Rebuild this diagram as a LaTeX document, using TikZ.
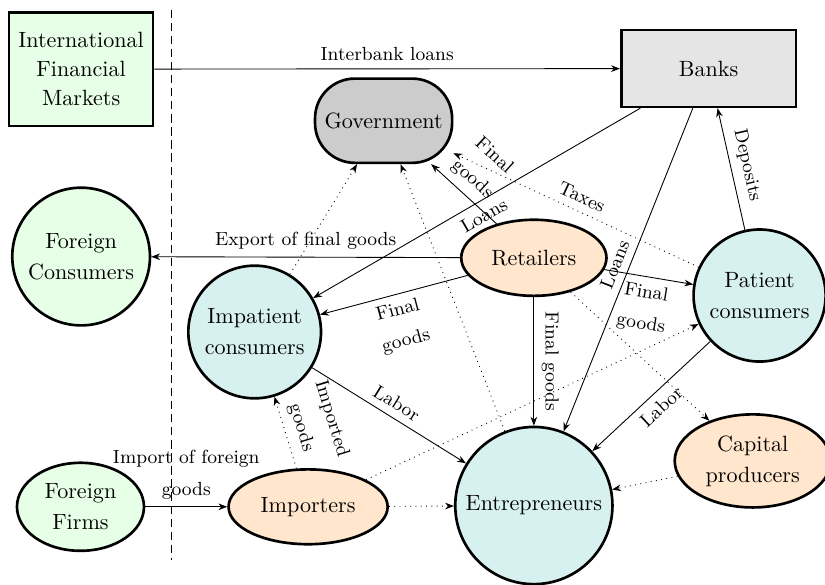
\documentclass[tikz,border=0pt]{standalone}
\usepackage{tikz}
\usetikzlibrary{arrows.meta,shapes.geometric,positioning}

\definecolor{abroad}{HTML}{E6FFE6}
\definecolor{firm}{HTML}{FFE6CC}
\definecolor{household}{HTML}{D7F1F1}
\newcommand{\agentfont}{\fontsize{10}{14}\selectfont}
\newcommand{\flowfont}{\fontsize{8.6}{10.3}\selectfont}

\tikzset{
  agent/.style     = {draw, very thick, align=center, inner sep=1pt, font=\agentfont},
  agentbox/.style  = {agent, rectangle},
  agentcirc/.style = {agent, circle},
  agentell/.style  = {agent, ellipse},
  flow/.style      = {-{Stealth[length=4pt,width=3pt]}, line width=0.4pt},
  dotflow/.style   = {flow, dotted},
  lbl/.style       = {font=\flowfont, align=center, sloped},
  border line/.style = {semithick, dash pattern=on 3.7pt off 2.2pt},
}

\begin{document}
\begin{tikzpicture}
  \useasboundingbox (0,0) rectangle (13.12,9.30);

  % rest of the world
  \node[agentbox, fill=abroad, minimum width=2.29cm, minimum height=1.81cm,
        font=\fontsize{10}{13}\selectfont]
       (ifm) at (1.29,8.20) {International\\Financial\\Markets};
  \node[agentcirc, fill=abroad, minimum size=2.19cm]
       (fcons) at (1.29,5.22) {Foreign\\Consumers};
  \node[agentell, fill=abroad, minimum width=2.02cm, minimum height=1.40cm]
       (ff) at (1.28,1.24) {Foreign\\Firms};

  \coordinate (sep top) at (2.73,9.14);
  \coordinate (sep bot) at (2.73,0.40);
  \draw[border line] (sep top) -- (sep bot);

  % domestic economy
  \node[agentbox, fill=gray!20, minimum width=2.78cm, minimum height=1.22cm]
       (banks) at (11.27,8.21) {Banks};
  \node[agentbox, fill=gray!40, rounded corners=18pt, minimum width=2.18cm, minimum height=1.34cm]
       (gov) at (6.10,7.38) {Government};
  \node[agentell, fill=firm, minimum width=2.31cm, minimum height=1.21cm]
       (ret) at (8.49,5.20) {Retailers};
  \node[agentcirc, fill=household, minimum size=2.10cm]
       (pat) at (12.08,4.60) {Patient\\consumers};
  \node[agentcirc, fill=household, minimum size=2.11cm]
       (imp) at (4.05,4.02) {Impatient\\consumers};
  \node[agentcirc, fill=household, minimum size=2.50cm]
       (ent) at (8.49,1.26) {Entrepreneurs};
  \node[agentell, fill=firm, minimum width=2.48cm, minimum height=1.48cm]
       (cap) at (11.97,1.97) {Capital\\producers};
  \node[agentell, fill=firm, minimum width=2.53cm, minimum height=1.19cm]
       (impo) at (4.90,1.24) {Importers};

  % flows
  \draw[flow] (ifm) -- node[lbl,above] {Interbank loans} (banks);
  \draw[flow] (ret) -- node[lbl,above] {Export of final goods} (fcons);
  \draw[flow] (banks) -- node[lbl,below] {Loans} (imp);
  \draw[flow] (banks) -- node[lbl,above] {Loans} (ent);
  \draw[flow] (pat) -- node[lbl,above] {Deposits} (banks);
  \draw[flow] (ret) -- node[lbl,above,pos=0.54] {Final\\[4pt]goods} (gov);
  \draw[dotflow] (pat) -- node[lbl,above] {Taxes} (gov);
  \draw[flow] (ret) -- node[lbl,below] {Final\\[4pt]goods} (imp);
  \draw[flow] (ret) -- node[lbl,below] {Final\\[4pt]goods} (pat);
  \draw[flow] (ret) -- node[lbl,above] {Final goods} (ent);
  \draw[flow] (pat) -- node[lbl,below] {Labor} (ent);
  \draw[flow] (imp) -- node[lbl,above] {Labor} (ent);
  \draw[dotflow] (impo) -- node[lbl,above] {Imported\\[4pt]goods} (imp);
  \draw[flow] (ff) -- node[lbl,above] {Import of foreign\\[4pt]goods} (impo);
  \draw[dotflow] (impo) -- (ent);
  \draw[dotflow] (impo) -- (pat);
  \draw[dotflow] (cap) -- (ent);
  \draw[dotflow] (ret) -- (cap);
  \draw[dotflow] (imp) -- (gov);
  \draw[dotflow] (ent) -- (gov);
\end{tikzpicture}
\end{document}
